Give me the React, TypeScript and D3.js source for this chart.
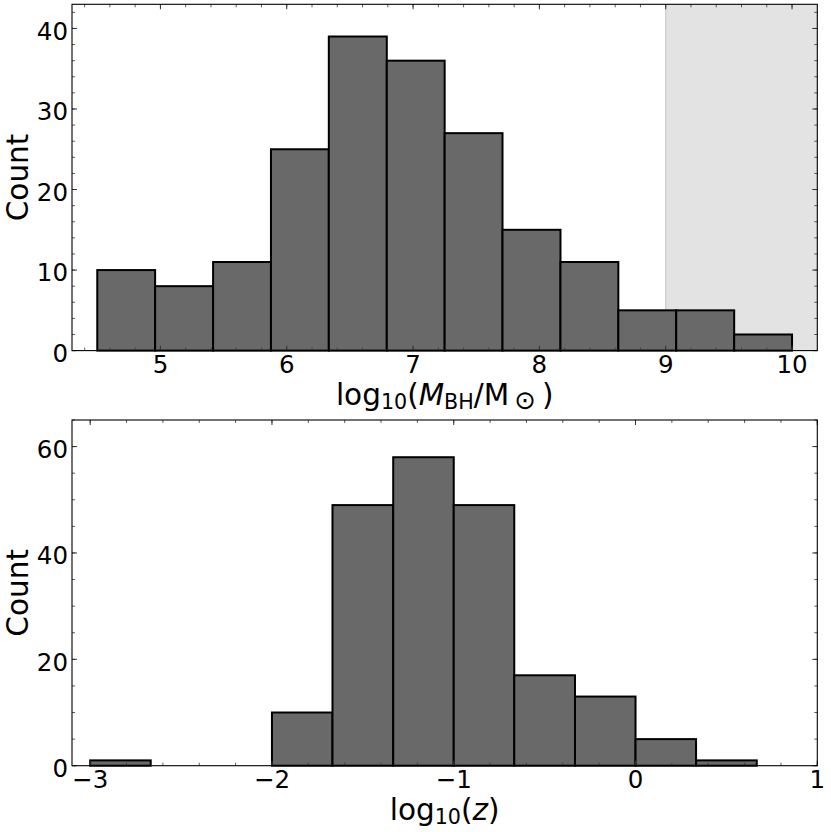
import React from "react";
import * as d3 from "d3";

const massBinEdges = [4.5, 4.958, 5.417, 5.875, 6.333, 6.792, 7.25, 7.708, 8.167, 8.625, 9.083, 9.542, 10.0];
const massCounts = [10, 8, 11, 25, 39, 36, 27, 15, 11, 5, 5, 2];
const massTicks = [5, 6, 7, 8, 9, 10];
const massCountTicks = [0, 10, 20, 30, 40];
const massShadeStart = 9;

const zBinEdges = [-3, -2.667, -2.333, -2, -1.667, -1.333, -1, -0.667, -0.333, 0, 0.333, 0.667];
const zCounts = [1, 0, 0, 10, 49, 58, 49, 17, 13, 5, 1];
const zTicks = [-3, -2, -1, 0, 1];
const zCountTicks = [0, 20, 40, 60];

const FONT = "DejaVu Sans, sans-serif";
const TICK_FS = 24.5;
const LABEL_FS = 29.5;

type PanelProps = {
  top: number;
  bottom: number;
  xDomain: [number, number];
  yDomain: [number, number];
  edges: number[];
  counts: number[];
  xTicks: number[];
  yTicks: number[];
  xMinorStep: number;
  yMinorStep: number;
  shadeFrom?: number;
  xLabel: React.ReactNode;
};

const LEFT = 72;
const RIGHT = 817.3;

function fmt(v: number) {
  return v < 0 ? "\u2212" + Math.abs(v) : String(v);
}

function Panel(p: PanelProps) {
  const x = d3.scaleLinear().domain(p.xDomain).range([LEFT, RIGHT]);
  const y = d3.scaleLinear().domain(p.yDomain).range([p.bottom, p.top]);
  const xMinor = d3
    .range(Math.ceil(p.xDomain[0] / p.xMinorStep), Math.floor(p.xDomain[1] / p.xMinorStep) + 1)
    .map((k) => +(k * p.xMinorStep).toFixed(6));
  const yMinor = d3
    .range(Math.ceil(p.yDomain[0] / p.yMinorStep), Math.floor(p.yDomain[1] / p.yMinorStep) + 1)
    .map((k) => k * p.yMinorStep);
  const tickColor = "#333";
  const major = 5;
  const minor = 3;
  return (
    <g>
      {p.shadeFrom !== undefined && (
        <g>
          <rect x={x(p.shadeFrom)} y={p.top} width={RIGHT - x(p.shadeFrom)} height={p.bottom - p.top} fill="#e3e3e3" />
          <line x1={x(p.shadeFrom)} x2={x(p.shadeFrom)} y1={p.top} y2={p.bottom} stroke="#cccccc" strokeWidth={1.2} />
        </g>
      )}
      {p.counts.map((c, i) =>
        c > 0 ? (
          <rect
            key={i}
            x={x(p.edges[i])}
            y={y(c)}
            width={x(p.edges[i + 1]) - x(p.edges[i])}
            height={y(0) - y(c)}
            fill="#696969"
            stroke="#000"
            strokeWidth={2}
          />
        ) : null
      )}
      {xMinor.map((v, i) => (
        <g key={"xm" + i}>
          <line x1={x(v)} x2={x(v)} y1={p.bottom} y2={p.bottom - minor} stroke={tickColor} strokeWidth={0.8} />
          <line x1={x(v)} x2={x(v)} y1={p.top} y2={p.top + minor} stroke={tickColor} strokeWidth={0.8} />
        </g>
      ))}
      {yMinor.map((v, i) => (
        <g key={"ym" + i}>
          <line x1={LEFT} x2={LEFT + minor} y1={y(v)} y2={y(v)} stroke={tickColor} strokeWidth={0.8} />
          <line x1={RIGHT} x2={RIGHT - minor} y1={y(v)} y2={y(v)} stroke={tickColor} strokeWidth={0.8} />
        </g>
      ))}
      {p.xTicks.map((v, i) => (
        <g key={"xt" + i}>
          <line x1={x(v)} x2={x(v)} y1={p.bottom} y2={p.bottom - major} stroke={tickColor} strokeWidth={1} />
          <line x1={x(v)} x2={x(v)} y1={p.top} y2={p.top + major} stroke={tickColor} strokeWidth={1} />
          <text x={x(v)} y={p.bottom + 22.7} textAnchor="middle" fontSize={TICK_FS} fontFamily={FONT}>
            {fmt(v)}
          </text>
        </g>
      ))}
      {p.yTicks.map((v, i) => (
        <g key={"yt" + i}>
          <line x1={LEFT} x2={LEFT + major} y1={y(v)} y2={y(v)} stroke={tickColor} strokeWidth={1} />
          <line x1={RIGHT} x2={RIGHT - major} y1={y(v)} y2={y(v)} stroke={tickColor} strokeWidth={1} />
          <text x={LEFT - 4} y={y(v) + 11.2} textAnchor="end" fontSize={TICK_FS} fontFamily={FONT}>
            {fmt(v)}
          </text>
        </g>
      ))}
      <rect x={LEFT} y={p.top} width={RIGHT - LEFT} height={p.bottom - p.top} fill="none" stroke="#000" strokeWidth={1.1} />
      <text
        transform={`translate(28,${(p.top + p.bottom) / 2}) rotate(-90)`}
        textAnchor="middle"
        fontSize={LABEL_FS}
        fontFamily={FONT}
      >
        Count
      </text>
      <text x={(LEFT + RIGHT) / 2} y={p.bottom + 54.5} textAnchor="middle" fontSize={LABEL_FS} fontFamily={FONT}>
        {p.xLabel}
      </text>
    </g>
  );
}

export default function App() {
  const sub = LABEL_FS * 0.7;
  return (
    <svg width={831} height={832} style={{ position: "absolute", left: 0, top: 0, background: "#fff" }}>
      <rect width={831} height={832} fill="#fff" />
      <Panel
        top={4.3}
        bottom={350.6}
        xDomain={[4.3, 10.2]}
        yDomain={[0, 43]}
        edges={massBinEdges}
        counts={massCounts}
        xTicks={massTicks}
        yTicks={massCountTicks}
        xMinorStep={0.2}
        yMinorStep={2}
        shadeFrom={massShadeStart}
        xLabel={
          <>
            <tspan>log</tspan>
            <tspan fontSize={sub} dy={4}>10</tspan>
            <tspan dy={-4}>(</tspan>
            <tspan fontStyle="italic">M</tspan>
            <tspan fontSize={sub} dy={4}>BH</tspan>
            <tspan dy={-4}>/M</tspan>
            <tspan fontSize={sub * 1.25} dy={4}>{"\u2009\u2299"}</tspan>
            <tspan dy={-4}>{"\u2009)"}</tspan>
          </>
        }
      />
      <Panel
        top={420}
        bottom={765.7}
        xDomain={[-3.1, 1.0]}
        yDomain={[0, 65]}
        edges={zBinEdges}
        counts={zCounts}
        xTicks={zTicks}
        yTicks={zCountTicks}
        xMinorStep={0.2}
        yMinorStep={5}
        xLabel={
          <>
            <tspan>log</tspan>
            <tspan fontSize={sub} dy={4}>10</tspan>
            <tspan dy={-4}>(</tspan>
            <tspan fontStyle="italic">z</tspan>
            <tspan>)</tspan>
          </>
        }
      />
    </svg>
  );
}
